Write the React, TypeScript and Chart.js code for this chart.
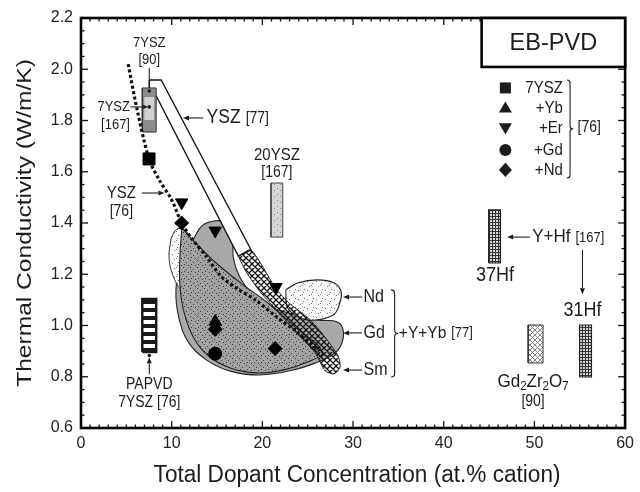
import React, { useEffect, useRef } from 'react';
import { Chart, registerables } from 'chart.js';

Chart.register(...registerables);

const FONT = '"Liberation Sans", Arial, Helvetica, sans-serif';
const INK = '#1c1c1c';

// axes
const X_TICKS = [0, 10, 20, 30, 40, 50, 60];
const Y_TICKS = [0.6, 0.8, 1.0, 1.2, 1.4, 1.6, 1.8, 2.0, 2.2];
const X_TITLE = 'Total Dopant Concentration (at.% cation)';
const Y_TITLE = 'Thermal Conductivity (W/m/K)';

// EB-PVD data points, ref [76]
const LEGEND_LABELS = ['7YSZ', '+Yb', '+Er', '+Gd', '+Nd'];
const ysz7X = [7.5];
const ysz7Y = [1.65];
const ybX = [14.8];
const ybY = [1.015];
const erX = [11.1, 14.8, 21.5];
const erY = [1.48, 1.37, 1.15];
const gdX = [14.8];
const gdY = [0.89];
const ndX = [11.1, 14.8, 21.4];
const ndY = [1.4, 0.985, 0.91];

// YSZ [76] trend (dotted curve)
const trendX = [5.2, 6.2, 7.5, 8.6, 10.0, 11.1, 12.2, 13.8, 15.5, 17.4, 19.2, 21.7, 23.6, 25.3, 26.3];
const trendY = [2.02, 1.84, 1.65, 1.57, 1.49, 1.4, 1.34, 1.27, 1.19, 1.14, 1.1, 1.03, 0.98, 0.93, 0.9];

// +Y+Yb [77] regions
const gdRegX = [12.44, 13.31, 14.62, 16.04, 16.69, 16.8, 17.56, 18.87, 20.62, 23.35, 26.29, 28.25, 28.91, 28.69, 27.71, 25.85, 23.35, 19.75, 16.47, 13.85, 11.89, 10.8, 10.47, 11.02];
const gdRegY = [1.341, 1.388, 1.408, 1.4, 1.353, 1.263, 1.185, 1.123, 1.076, 1.045, 1.021, 1.014, 0.982, 0.924, 0.885, 0.854, 0.826, 0.807, 0.822, 0.865, 0.932, 1.029, 1.139, 1.248];
const lensX = [11.13, 12.98, 15.16, 17.89, 20.62, 23.35, 26.62, 24.98, 22.25, 19.31, 16.47, 14.07, 12.44, 11.35, 10.91, 10.91];
const lensY = [1.38, 1.31, 1.236, 1.158, 1.088, 1.002, 0.897, 0.858, 0.826, 0.815, 0.834, 0.881, 0.951, 1.053, 1.158, 1.275];
const ndLeftX = [9.93, 10.58, 11.45, 12.0, 11.89, 11.45, 11.02, 10.25, 9.71];
const ndLeftY = [1.341, 1.377, 1.373, 1.334, 1.263, 1.197, 1.146, 1.185, 1.263];
const ndRightX = [22.58, 23.89, 26.07, 27.93, 28.69, 28.47, 27.82, 25.85, 24.22, 22.8];
const ndRightY = [1.139, 1.166, 1.178, 1.166, 1.131, 1.08, 1.041, 1.021, 1.029, 1.068];
const smBandX = [17.35, 18.76, 21.38, 22.8, 25.31, 27.16, 28.36, 28.58, 27.93, 26.95, 25.75, 23.56, 21.38, 19.85, 18.22];
const smBandY = [1.271, 1.295, 1.15, 1.092, 1.021, 0.943, 0.881, 0.838, 0.811, 0.822, 0.897, 0.979, 1.068, 1.127, 1.209];

// YSZ [77] band
const yszBandX = [7.53, 8.84, 18.76, 17.35, 8.29, 7.53];
const yszBandY = [1.958, 1.958, 1.295, 1.271, 1.896, 1.927];

// ranges (x range, y range)
const ysz90X = [6.76, 8.29];
const ysz90Y = [1.755, 1.927];
const ysz167X = [6.98, 8.07];
const ysz167Y = [1.802, 1.892];
const ysz20X = [20.95, 22.25];
const ysz20Y = [1.345, 1.556];
const papvdX = [6.76, 8.29];
const papvdY = [0.897, 1.103];
const hf37X = [44.95, 46.25];
const hf37Y = [1.244, 1.451];
const hf31X = [54.98, 56.29];
const hf31Y = [0.799, 1.002];
const gdzrX = [49.31, 50.95];
const gdzrY = [0.854, 1.002];

function makePattern(w: number, h: number, draw: (g: CanvasRenderingContext2D) => void) {
  const c = document.createElement('canvas');
  c.width = w;
  c.height = h;
  const g = c.getContext('2d')!;
  draw(g);
  return g.createPattern(c, 'repeat')!;
}

function diag(g: CanvasRenderingContext2D, s: number) {
  g.beginPath();
  for (const k of [-s, 0, s]) {
    g.moveTo(k, 0);
    g.lineTo(k + s, s);
    g.moveTo(k, s);
    g.lineTo(k + s, 0);
  }
  g.stroke();
}

function txt(ctx: CanvasRenderingContext2D, s: string, x: number, y: number, size: number, align: CanvasTextAlign = 'center', sy = 1.12) {
  ctx.save();
  ctx.font = `${size}px ${FONT}`;
  ctx.textAlign = align;
  ctx.textBaseline = 'middle';
  const w = ctx.measureText(s).width;
  ctx.translate(x, y);
  ctx.scale(1, sy);
  ctx.fillText(s, 0, 0);
  ctx.restore();
  return w;
}

// main label followed by a smaller reference tag
function tagged(ctx: CanvasRenderingContext2D, main: string, mainSize: number, tag: string, tagSize: number, x: number, y: number) {
  const w = txt(ctx, main, x, y, mainSize, 'left');
  txt(ctx, tag, x + w + 5, y + 0.5, tagSize, 'left');
}

function richTxt(ctx: CanvasRenderingContext2D, parts: [string, boolean][], cx: number, cy: number, size: number) {
  ctx.save();
  const widths = parts.map(([s, sub]) => {
    ctx.font = `${sub ? size * 0.68 : size}px ${FONT}`;
    return ctx.measureText(s).width;
  });
  let x = cx - widths.reduce((a, b) => a + b, 0) / 2;
  ctx.textAlign = 'left';
  ctx.textBaseline = 'middle';
  parts.forEach(([s, sub], i) => {
    ctx.font = `${sub ? size * 0.68 : size}px ${FONT}`;
    ctx.save();
    ctx.translate(x, cy + (sub ? size * 0.3 : 0));
    ctx.scale(1, 1.12);
    ctx.fillText(s, 0, 0);
    ctx.restore();
    x += widths[i];
  });
  ctx.restore();
}

function seg(ctx: CanvasRenderingContext2D, x1: number, y1: number, x2: number, y2: number) {
  ctx.beginPath();
  ctx.moveTo(x1, y1);
  ctx.lineTo(x2, y2);
  ctx.stroke();
}

function arrow(ctx: CanvasRenderingContext2D, x1: number, y1: number, x2: number, y2: number, head = 6) {
  const a = Math.atan2(y2 - y1, x2 - x1);
  const bx = x2 - head * Math.cos(a);
  const by = y2 - head * Math.sin(a);
  seg(ctx, x1, y1, bx, by);
  const w = head * 0.42;
  ctx.beginPath();
  ctx.moveTo(x2, y2);
  ctx.lineTo(bx + w * Math.sin(a), by - w * Math.cos(a));
  ctx.lineTo(bx - w * Math.sin(a), by + w * Math.cos(a));
  ctx.closePath();
  ctx.fill();
}

function brace(ctx: CanvasRenderingContext2D, x: number, yTop: number, yBot: number, w: number) {
  const ym = (yTop + yBot) / 2;
  ctx.beginPath();
  ctx.moveTo(x, yTop);
  ctx.quadraticCurveTo(x + w, yTop, x + w, yTop + w);
  ctx.lineTo(x + w, ym - w);
  ctx.quadraticCurveTo(x + w, ym, x + 2 * w, ym);
  ctx.quadraticCurveTo(x + w, ym, x + w, ym + w);
  ctx.lineTo(x + w, yBot - w);
  ctx.quadraticCurveTo(x + w, yBot, x, yBot);
  ctx.stroke();
}

function marker(ctx: CanvasRenderingContext2D, kind: string, x: number, y: number, r: number) {
  ctx.beginPath();
  if (kind === 'square') ctx.rect(x - r * 0.85, y - r * 0.85, r * 1.7, r * 1.7);
  else if (kind === 'up') {
    ctx.moveTo(x, y - r);
    ctx.lineTo(x + r, y + r * 0.72);
    ctx.lineTo(x - r, y + r * 0.72);
    ctx.closePath();
  } else if (kind === 'down') {
    ctx.moveTo(x, y + r);
    ctx.lineTo(x + r, y - r * 0.72);
    ctx.lineTo(x - r, y - r * 0.72);
    ctx.closePath();
  } else if (kind === 'circle') ctx.arc(x, y, r, 0, Math.PI * 2);
  else {
    ctx.moveTo(x, y - r * 1.1);
    ctx.lineTo(x + r, y);
    ctx.lineTo(x, y + r * 1.1);
    ctx.lineTo(x - r, y);
    ctx.closePath();
  }
  ctx.fill();
}

const decorPlugin = {
  id: 'decor',
  afterDatasetsDraw(chart: any) {
    const ctx: CanvasRenderingContext2D = chart.ctx;
    const xs = chart.scales.x;
    const ys = chart.scales.y;
    const X = (v: number) => xs.getPixelForValue(v);
    const Y = (v: number) => ys.getPixelForValue(v);
    const { left, right, top, bottom } = chart.chartArea;
    ctx.save();
    ctx.fillStyle = INK;
    ctx.strokeStyle = INK;
    ctx.lineWidth = 1.1;

    // 7YSZ [90]
    txt(ctx, '7YSZ', X(7.53), Y(2.102), 13);
    txt(ctx, '[90]', X(7.53), Y(2.036), 13);
    seg(ctx, X(7.53), Y(2.005), X(7.53), Y(1.927));
    marker(ctx, 'circle', X(7.53), Y(1.915), 1.8);
    // 7YSZ [167]
    txt(ctx, '7YSZ', X(5.4), Y(1.853), 13, 'right');
    txt(ctx, '[167]', X(5.4), Y(1.783), 13, 'right');
    arrow(ctx, X(5.45), Y(1.853), X(7.4), Y(1.853), 5);
    marker(ctx, 'circle', X(7.53), Y(1.853), 1.8);
    // YSZ [77]
    arrow(ctx, X(13.5), Y(1.81), X(11.25), Y(1.81), 6);
    tagged(ctx, 'YSZ', 17.5, '[77]', 14, X(13.85), Y(1.81));
    // 20YSZ [167]
    txt(ctx, '20YSZ', X(21.6), Y(1.665), 15);
    txt(ctx, '[167]', X(21.6), Y(1.598), 14);
    // YSZ [76]
    txt(ctx, 'YSZ', X(4.45), Y(1.517), 15);
    txt(ctx, '[76]', X(4.45), Y(1.443), 14);
    arrow(ctx, X(6.7), Y(1.517), X(9.2), Y(1.517), 6);
    // PAPVD
    arrow(ctx, X(7.53), Y(0.81), X(7.53), Y(0.876), 6);
    marker(ctx, 'circle', X(7.53), Y(0.883), 1.8);
    txt(ctx, 'PAPVD', X(7.53), Y(0.768), 14);
    txt(ctx, '7YSZ [76]', X(7.53), Y(0.698), 14);
    // Nd / Gd / Sm +Y+Yb [77]
    const ndRows: [string, number][] = [['Nd', 1.111], ['Gd', 0.971], ['Sm', 0.826]];
    ndRows.forEach(([s, v]) => {
      arrow(ctx, X(31.0), Y(v), X(28.9), Y(v), 6);
      txt(ctx, s, X(31.15), Y(v), 16, 'left');
    });
    brace(ctx, X(34.2), Y(1.139), Y(0.799), 3.5);
    tagged(ctx, '+Y+Yb', 15.5, '[77]', 13, X(35.05), Y(0.971));
    // Y+Hf [167]
    arrow(ctx, X(49.5), Y(1.345), X(47.0), Y(1.345), 6);
    tagged(ctx, 'Y+Hf', 17, '[167]', 13, X(49.75), Y(1.345));
    txt(ctx, '37Hf', X(45.65), Y(1.197), 18);
    arrow(ctx, X(55.3), Y(1.295), X(55.3), Y(1.122), 6);
    txt(ctx, '31Hf', X(55.3), Y(1.06), 18);
    richTxt(ctx, [['Gd', false], ['2', true], ['Zr', false], ['2', true], ['O', false], ['7', true]], X(49.85), Y(0.782), 17);
    txt(ctx, '[90]', X(49.85), Y(0.703), 14);

    // ticks (inward, all four sides)
    ctx.lineWidth = 1.3;
    ctx.strokeStyle = '#111';
    for (let v = 0; v <= 60; v += 1) {
      const len = v % 10 === 0 ? 7 : 3.5;
      const px = X(v);
      seg(ctx, px, bottom, px, bottom - len);
      seg(ctx, px, top, px, top + len);
    }
    for (let k = 0; k <= 32; k++) {
      const v = 0.6 + k * 0.05;
      const len = k % 4 === 0 ? 7 : 3.5;
      const py = Y(v);
      seg(ctx, left, py, left + len, py);
      seg(ctx, right, py, right - len, py);
    }
    // frame
    ctx.lineWidth = 2.6;
    ctx.strokeStyle = '#000';
    ctx.strokeRect(left, top, right - left, bottom - top);

    // EB-PVD box
    const bx0 = X(44.18);
    const by1 = Y(2.009);
    ctx.fillStyle = '#fff';
    ctx.fillRect(bx0, top, right - bx0, by1 - top);
    ctx.strokeRect(bx0, top, right - bx0, by1 - top);
    ctx.fillStyle = INK;
    txt(ctx, 'EB-PVD', (bx0 + right) / 2, (top + by1) / 2 + 1, 23.5, 'center', 1.05);

    // legend
    const kinds = ['square', 'up', 'down', 'circle', 'diamond'];
    const rowsY = [1.927, 1.849, 1.771, 1.685, 1.607];
    LEGEND_LABELS.forEach((s, i) => {
      marker(ctx, kinds[i], X(46.8), Y(rowsY[i]), kinds[i] === 'circle' ? 6 : 6.5);
      txt(ctx, s, X(53.13), Y(rowsY[i]), 15, 'right');
    });
    ctx.lineWidth = 1.1;
    ctx.strokeStyle = INK;
    brace(ctx, X(53.6), Y(1.958), Y(1.576), 3);
    txt(ctx, '[76]', X(54.75), Y(1.771), 14, 'left');

    // axis titles
    txt(ctx, X_TITLE, (left + right) / 2 + 4, 475, 22.6, 'center', 1.08);
    ctx.save();
    ctx.translate(25, (top + bottom) / 2);
    ctx.rotate(-Math.PI / 2);
    ctx.font = `21px ${FONT}`;
    ctx.textAlign = 'center';
    ctx.textBaseline = 'middle';
    ctx.scale(1.17, 1);
    ctx.fillText(Y_TITLE, 0, 0);
    ctx.restore();
    ctx.restore();
  },
};

export default function App() {
  const ref = useRef<HTMLCanvasElement>(null);
  useEffect(() => {
    const canvas = ref.current!;
    const pLightDots = makePattern(9, 9, (g) => {
      g.fillStyle = '#fbfbfb';
      g.fillRect(0, 0, 9, 9);
      g.fillStyle = '#777';
      [[1, 2], [5, 6], [7, 1], [3, 7], [6, 4]].forEach(([a, b]) => g.fillRect(a, b, 1, 1));
    });
    const pGrayDots = makePattern(7, 7, (g) => {
      g.fillStyle = '#a2a2a2';
      g.fillRect(0, 0, 7, 7);
      g.fillStyle = '#3a3a3a';
      [[1, 1], [4, 3], [2, 5], [6, 6]].forEach(([a, b]) => g.fillRect(a, b, 1, 1));
    });
    const pPaleDots = makePattern(6, 6, (g) => {
      g.fillStyle = '#d6d6d6';
      g.fillRect(0, 0, 6, 6);
      g.fillStyle = '#8a8a8a';
      [[1, 2], [4, 4]].forEach(([a, b]) => g.fillRect(a, b, 1, 1));
    });
    const pCross = makePattern(6, 6, (g) => {
      g.strokeStyle = '#111';
      g.lineWidth = 1.3;
      diag(g, 6);
    });
    const pLightCross = makePattern(5, 5, (g) => {
      g.fillStyle = '#fff';
      g.fillRect(0, 0, 5, 5);
      g.strokeStyle = '#777';
      g.lineWidth = 0.9;
      diag(g, 5);
    });
    const pGrid = makePattern(3, 3, (g) => {
      g.fillStyle = '#d8d8d8';
      g.fillRect(0, 0, 3, 3);
      g.fillStyle = '#333';
      g.fillRect(0, 0, 3, 1);
      g.fillRect(0, 0, 1, 3);
    });
    const pStripes = makePattern(4, 8, (g) => {
      g.fillStyle = '#fff';
      g.fillRect(0, 0, 4, 4);
      g.fillStyle = '#1a1a1a';
      g.fillRect(0, 4, 4, 4);
    });

    const closed = (xs: number[], ys: number[]) => {
      const p = xs.map((x, i) => ({ x, y: ys[i] }));
      p.push({ ...p[0] });
      return p;
    };
    const rect = (xr: number[], yr: number[]) => closed([xr[0], xr[1], xr[1], xr[0]], [yr[0], yr[0], yr[1], yr[1]]);
    const shape = (data: any[], bg: any, border: string, bw: number, order: number, tension = 0.4) => ({
      type: 'line',
      data,
      backgroundColor: bg,
      borderColor: border,
      borderWidth: bw,
      fill: 'shape',
      pointRadius: 0,
      pointHoverRadius: 0,
      tension,
      order,
    });
    const pts = (xs: number[], ys: number[]) => xs.map((x, i) => ({ x, y: ys[i] }));
    const mk = (xs: number[], ys: number[], style: string, rotation: number, radius: number) => ({
      type: 'scatter',
      data: pts(xs, ys),
      pointStyle: style,
      rotation,
      pointRadius: radius,
      pointHoverRadius: radius,
      backgroundColor: '#000',
      borderColor: '#000',
      borderWidth: 1,
      order: 1,
    });

    const datasets: any[] = [
      shape(closed(gdRegX, gdRegY), '#a9a9a9', '#222', 1.1, 20),
      shape(closed(ndLeftX, ndLeftY), pLightDots, '#333', 1, 19),
      shape(closed(lensX, lensY), pGrayDots, '#222', 1.1, 18),
      shape(closed(ndRightX, ndRightY), pLightDots, '#222', 1.1, 17),
      shape(closed(yszBandX, yszBandY), '#ffffff', '#111', 1.3, 16, 0),
      shape(closed(smBandX, smBandY), pCross, '#222', 1, 15, 0.2),
      shape(rect(ysz90X, ysz90Y), '#8c8c8c', '#333', 1, 10, 0),
      shape(rect(ysz167X, ysz167Y), '#d2d2d2', '#d2d2d2', 0, 9, 0),
      shape(rect(ysz20X, ysz20Y), pPaleDots, '#444', 1, 10, 0),
      shape(rect(papvdX, papvdY), pStripes, '#1a1a1a', 2.5, 10, 0),
      shape(rect(hf37X, hf37Y), pGrid, '#222', 1.2, 10, 0),
      shape(rect(hf31X, hf31Y), pGrid, '#222', 1.2, 10, 0),
      shape(rect(gdzrX, gdzrY), pLightCross, '#333', 1, 10, 0),
      {
        type: 'line',
        data: pts(trendX, trendY),
        borderColor: '#111',
        borderWidth: 3.2,
        borderDash: [3, 2.5],
        fill: false,
        pointRadius: 0,
        tension: 0.3,
        order: 5,
      },
      mk(ysz7X, ysz7Y, 'rect', 0, 8.5),
      mk(erX, erY, 'triangle', 180, 7.2),
      mk(ybX, ybY, 'triangle', 0, 7.2),
      mk(ndX, ndY, 'rectRot', 0, 7),
      mk(gdX, gdY, 'circle', 0, 6.5),
    ];

    const chart = new Chart(canvas, {
      type: 'scatter',
      data: { datasets },
      options: {
        animation: false,
        responsive: false,
        maintainAspectRatio: false,
        events: [],
        layout: { padding: { top: 18, right: 9, left: 0, bottom: 0 } },
        plugins: { legend: { display: false }, tooltip: { enabled: false } },
        scales: {
          x: {
            type: 'linear',
            min: 0,
            max: 60,
            afterBuildTicks: (s: any) => {
              s.ticks = X_TICKS.map((value) => ({ value }));
            },
            afterFit: (s: any) => {
              s.height = 64;
            },
            ticks: { font: { family: FONT, size: 16 }, color: '#222', padding: 6, maxRotation: 0, callback: (v: any) => String(v) },
            grid: { display: false, drawTicks: false },
            border: { display: false },
          },
          y: {
            type: 'linear',
            min: 0.6,
            max: 2.2,
            afterBuildTicks: (s: any) => {
              s.ticks = Y_TICKS.map((value) => ({ value }));
            },
            afterFit: (s: any) => {
              s.width = 81;
            },
            ticks: { font: { family: FONT, size: 16 }, color: '#222', padding: 8, callback: (v: any) => Number(v).toFixed(1) },
            grid: { display: false, drawTicks: false },
            border: { display: false },
          },
        },
      } as any,
      plugins: [decorPlugin],
    });
    return () => chart.destroy();
  }, []);
  return (
    <div style={{ position: 'absolute', left: 0, top: 0, width: 640, height: 492, background: '#fff' }}>
      <canvas ref={ref} width={640} height={492} style={{ display: 'block' }} />
    </div>
  );
}
